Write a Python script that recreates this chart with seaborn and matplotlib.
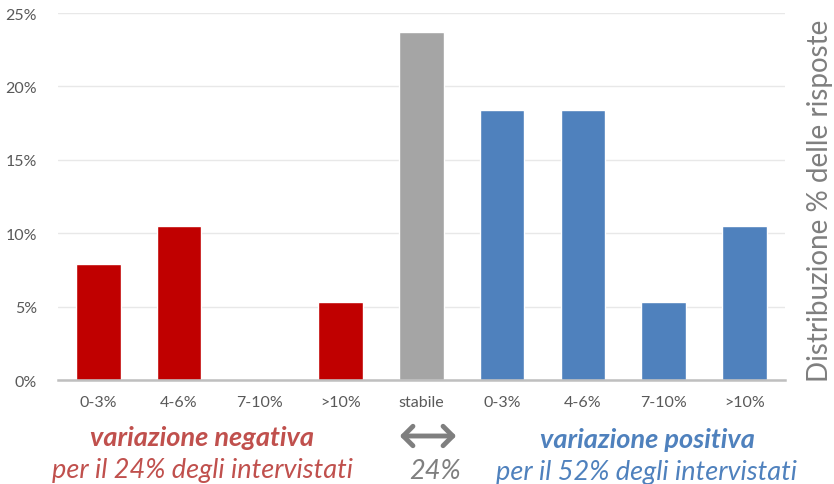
import pandas as pd
import numpy as np
import seaborn as sns
import matplotlib.pyplot as plt
from matplotlib.patches import FancyArrowPatch
from matplotlib.ticker import PercentFormatter

# data (share of answers, %)
labels = ["0-3%", "4-6%", "7-10%", ">10%", "stabile", "0-3%", "4-6%", "7-10%", ">10%"]
groups = ["neg", "neg", "neg", "neg", "stab", "pos", "pos", "pos", "pos"]
values = [7.9, 10.5, 0.0, 5.3, 23.7, 18.4, 18.4, 5.3, 10.5]
neg_share = 24
stab_share = 24
pos_share = 52

colors = {"neg": "#c00000", "stab": "#a5a5a5", "pos": "#4f81bd"}

df = pd.DataFrame({
    "key": [f"{g}_{i}" for i, g in enumerate(groups)],
    "label": labels,
    "group": groups,
    "value": values,
})

sns.set_style("white")
plt.rcParams["font.family"] = ["Lato", "DejaVu Sans"]

fig = plt.figure(figsize=(8.34, 4.85), dpi=100)
ax = fig.add_axes([0.0695, 0.2144, 0.8715, 0.7566])

sns.barplot(data=df, x="key", y="value", hue="group", palette=colors,
            order=df["key"], dodge=False, width=0.55, legend=False,
            saturation=1, ax=ax)

ax.set_ylim(0, 25)
ax.set_yticks(np.arange(0, 26, 5))
ax.yaxis.set_major_formatter(PercentFormatter(decimals=0))
ax.set_xticks(range(len(labels)))
ax.set_xticklabels(labels)
ax.set_xlim(-0.5, len(labels) - 0.5)
ax.tick_params(axis="both", length=0, labelsize=11.5, labelcolor="#595959")
ax.tick_params(axis="x", pad=11)
ax.tick_params(axis="y", pad=15)
ax.set_xlabel("")
ax.set_ylabel("")
ax.grid(axis="y", color="#e8e8e8", linewidth=1)
ax.set_axisbelow(True)
for s in ["left", "right", "top"]:
    ax.spines[s].set_visible(False)
ax.spines["bottom"].set_color("#bfbfbf")
ax.spines["bottom"].set_linewidth(1.8)

# right-hand axis title
fig.text(820 / 834, 1 - 201 / 485, "Distribuzione % delle risposte", rotation=90,
         ha="center", va="center", fontsize=20, color="#7f7f7f")

# annotations under the axis
fig.text(202 / 834, 1 - 438 / 485, "variazione negativa", ha="center", va="center",
         fontsize=19.5, fontweight="bold", style="italic", color="#c0504d")
fig.text(202 / 834, 1 - 471 / 485, f"per il {neg_share}% degli intervistati",
         ha="center", va="center", fontsize=19.5, style="italic", color="#c0504d")
fig.text(647 / 834, 1 - 440 / 485, "variazione positiva", ha="center", va="center",
         fontsize=19.5, fontweight="bold", style="italic", color="#4f81bd")
fig.text(647 / 834, 1 - 473 / 485, f"per il {pos_share}% degli intervistati",
         ha="center", va="center", fontsize=19.5, style="italic", color="#4f81bd")
fig.text(435 / 834, 1 - 472 / 485, f"{stab_share}%", ha="center", va="center",
         fontsize=19.5, style="italic", color="#7f7f7f")
fig.patches.append(FancyArrowPatch(
    (397 / 834, 1 - 437 / 485), (459 / 834, 1 - 437 / 485),
    transform=fig.transFigure, arrowstyle="<->,head_length=7,head_width=7",
    color="#7f7f7f", linewidth=3.5))

fig.savefig("out.png", dpi=100)
